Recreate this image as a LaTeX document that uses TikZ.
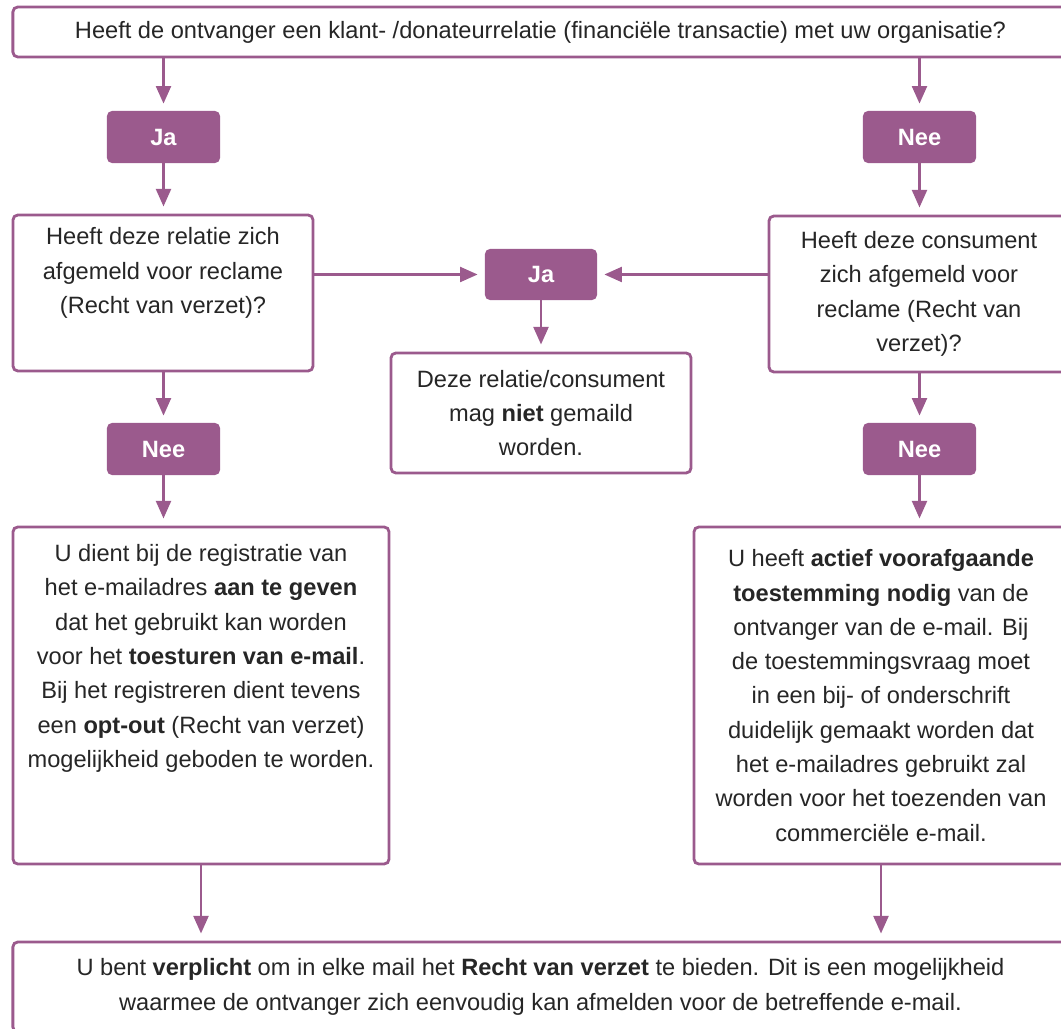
\documentclass[tikz,border=0pt]{standalone}
\usepackage{fontspec}
\setmainfont{Liberation Sans}
\usetikzlibrary{arrows.meta}
\definecolor{paars}{HTML}{9B5A8D}
\definecolor{tekst}{HTML}{262626}

\begin{document}
\begin{tikzpicture}[x=0.025cm, y=-0.025cm,
        vraagbox/.style={draw=paars, line width=2pt, rounded corners=3.5pt, fill=white, align=center, text=tekst, inner sep=0pt, font=\fontsize{16.8}{24.4}\selectfont},
        keuze/.style={fill=paars, rounded corners=3.5pt, text=white, inner sep=0pt, minimum width=2.825cm, minimum height=1.3cm, font=\fontsize{16.8}{20}\selectfont\bfseries},
        pijl/.style={draw=paars, line width=2pt, -{Triangle[length=12.5pt, width=10.5pt]}, shorten >=5pt}]
        \useasboundingbox (0,0) rectangle (1061,1029);
        \node[vraagbox, minimum width=26.375cm, minimum height=1.25cm] (start) at (540.5,32) {Heeft de ontvanger een klant- /donateurrelatie (financiële transactie) met uw organisatie?};
        \node[keuze] (jaklant) at (163.5,137) {Ja};
        \node[keuze] (neeklant) at (919.5,137) {Nee};
        \node[vraagbox, minimum width=7.5cm, minimum height=3.9cm] (relatie) at (163,293) {Heeft deze relatie zich\\afgemeld voor reclame\\(Recht van verzet)?\\ \strut};
        \node[vraagbox, minimum width=7.5cm, minimum height=3.9cm] (consument) at (919,294) {Heeft deze consument\\zich afgemeld voor\\reclame (Recht van\\verzet)?};
        \node[keuze, minimum width=2.8cm, minimum height=1.275cm] (jaafgemeld) at (541,274.5) {Ja};
        \node[vraagbox, minimum width=7.5cm, minimum height=3cm] (niet) at (541,413) {Deze relatie/consument\\mag \textbf{niet} gemaild\\worden.};
        \node[keuze] (neerelatie) at (163.5,449) {Nee};
        \node[keuze] (neeconsument) at (919.5,449) {Nee};
        \node[vraagbox, minimum width=9.4cm, minimum height=8.425cm] (optout) at (201,695.5) {U dient bij de registratie van\\het e-mailadres \textbf{aan te geven}\\dat het gebruikt kan worden\\voor het \textbf{toesturen van e-mail}.\\Bij het registreren dient tevens\\een \textbf{opt-out} (Recht van verzet)\\mogelijkheid geboden te worden.\\ \strut\\ \strut};
        \node[vraagbox, minimum width=9.35cm, minimum height=8.425cm] (optin) at (881,695.5) {U heeft \textbf{actief voorafgaande}\\\textbf{toestemming nodig} van de\\ontvanger van de e-mail. Bij\\de toestemmingsvraag moet\\in een bij- of onderschrift\\duidelijk gemaakt worden dat\\het e-mailadres gebruikt zal\\worden voor het toezenden van\\commerciële e-mail.};
        \node[vraagbox, minimum width=26.375cm, minimum height=2.25cm] (verzet) at (540.5,987) {U bent \textbf{verplicht} om in elke mail het \textbf{Recht van verzet} te bieden. Dit is een mogelijkheid\\waarmee de ontvanger zich eenvoudig kan afmelden voor de betreffende e-mail.};
        \draw[pijl] (start.south -| jaklant) -- (jaklant);
        \draw[pijl] (start.south -| neeklant) -- (neeklant);
        \draw[pijl] (jaklant.south) -- (jaklant.south |- relatie.north);
        \draw[pijl] (neeklant.south) -- (neeklant.south |- consument.north);
        \draw[pijl] (relatie.east |- jaafgemeld) -- (jaafgemeld);
        \draw[pijl] (consument.west |- jaafgemeld) -- (jaafgemeld);
        \draw[pijl] (jaafgemeld.south) -- (jaafgemeld.south |- niet.north);
        \draw[pijl] (relatie.south -| neerelatie) -- (neerelatie);
        \draw[pijl] (consument.south -| neeconsument) -- (neeconsument);
        \draw[pijl] (neerelatie.south) -- (neerelatie.south |- optout.north);
        \draw[pijl] (neeconsument.south) -- (neeconsument.south |- optin.north);
        \draw[pijl] (optout.south) -- (optout.south |- verzet.north);
        \draw[pijl] (optin.south) -- (optin.south |- verzet.north);
\end{tikzpicture}
\end{document}
